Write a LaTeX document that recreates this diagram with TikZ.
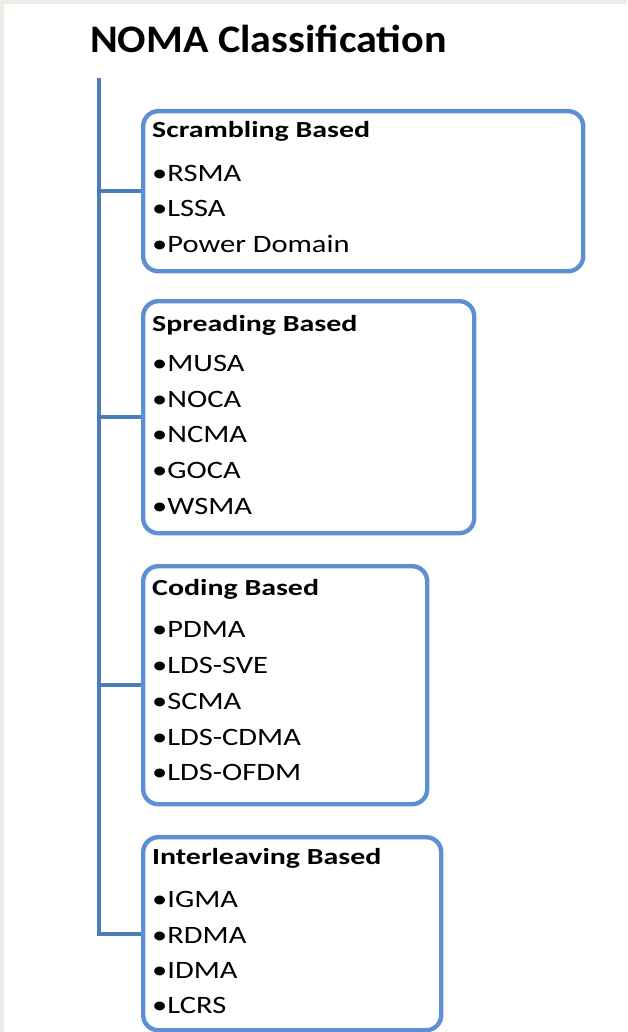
\documentclass[tikz,border=0pt]{standalone}
\usepackage{fontspec}
\setmainfont{Carlito}
\newfontfamily\ttlfont[FakeStretch=1.08]{Carlito}
\newfontfamily\headfont[FakeStretch=1.3]{Carlito}
\newfontfamily\itemfont[FakeStretch=1.22]{Carlito}
\definecolor{trunk}{RGB}{74,125,186}
\definecolor{boxline}{RGB}{93,144,210}
\definecolor{frame}{RGB}{238,237,230}
\begin{document}
\begin{tikzpicture}[x=1pt,y=-1pt,
  box/.style={draw=boxline,line width=4.4pt,rounded corners=15pt,fill=white,anchor=north west,inner sep=0pt},
  conn/.style={draw=trunk,line width=4.4pt},
  head/.style={anchor=base west,inner sep=0pt,font=\headfont\fontsize{23}{26}\selectfont\bfseries},
  item/.style={anchor=base west,inner sep=0pt,font=\itemfont\fontsize{25}{28}\selectfont},
  ttl/.style={anchor=base west,inner sep=0pt,font=\ttlfont\fontsize{39}{44}\selectfont\bfseries}]
\useasboundingbox (0,0) rectangle (627,1032);
\fill[frame] (0,0) rectangle (627,1032);
\fill[white] (4,4) rectangle (627,1032);
\node[ttl] (title) at (90,53) {NOMA Classification};
% boxes
\node[box,minimum width=440pt,minimum height=160pt] (b1) at (141,109) {};
\node[box,minimum width=331pt,minimum height=232pt] (b2) at (141,299) {};
\node[box,minimum width=284pt,minimum height=238pt] (b3) at (141,564) {};
\node[box,minimum width=298pt,minimum height=193pt] (b4) at (141,835) {};
% connectors
\coordinate (top) at (99,78);
\draw[conn] (top) |- (b4.west);
\draw[conn] (top |- b1.west) -- (b1.west);
\draw[conn] (top |- b2.west) -- (b2.west);
\draw[conn] (top |- b3.west) -- (b3.west);
% box 1
\node[head] (h1) at (152,138) {Scrambling Based};
\node[item] (i11) at (152,182) {•RSMA};
\node[item] (i12) at (152,217) {•LSSA};
\node[item] (i13) at (152,252) {•Power Domain};
% box 2
\node[head] (h2) at (152,331) {Spreading Based};
\node[item] (i21) at (152,371) {•MUSA};
\node[item] (i22) at (152,407) {•NOCA};
\node[item] (i23) at (152,442) {•NCMA};
\node[item] (i24) at (152,478) {•GOCA};
\node[item] (i25) at (152,514) {•WSMA};
% box 3
\node[head] (h3) at (152,595) {Coding Based};
\node[item] (i31) at (152,637) {•PDMA};
\node[item] (i32) at (152,673) {•LDS-SVE};
\node[item] (i33) at (152,709) {•SCMA};
\node[item] (i34) at (152,745) {•LDS-CDMA};
\node[item] (i35) at (152,780) {•LDS-OFDM};
% box 4
\node[head] (h4) at (152,864) {Interleaving Based};
\node[item] (i41) at (152,907) {•IGMA};
\node[item] (i42) at (152,943) {•RDMA};
\node[item] (i43) at (152,978) {•IDMA};
\node[item] (i44) at (152,1013) {•LCRS};
\end{tikzpicture}
\end{document}
